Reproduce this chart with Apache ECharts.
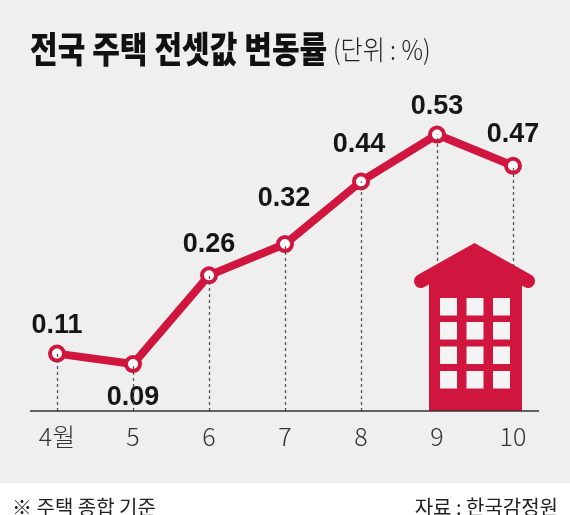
<!DOCTYPE html>
<html>
<head>
<meta charset="utf-8">
<script src="https://cdn.jsdelivr.net/npm/echarts@6/dist/echarts.min.js"></script>
<style>
html,body{margin:0;padding:0;background:#efefef;}
#chart{width:570px;height:515px;}
</style>
</head>
<body>
<div id="chart"></div>
<script>
// ---- data ----
const categories = ['4월', '5', '6', '7', '8', '9', '10'];
const values = [0.11, 0.09, 0.26, 0.32, 0.44, 0.53, 0.47];
const titleText = '전국 주택 전셋값 변동률';
const unitText = '(단위 : %)';
const noteText = '※ 주택 종합 기준';
const sourceText = '자료 : 한국감정원';

// ---- layout (label offsets from each point, px) ----
const labelOffsets = [[0, -28], [0, 33], [0, -31], [-1, -46], [-2, -37], [0, -28], [0, -31]];

const RED = '#d0163e';
const chart = echarts.init(document.getElementById('chart'), null, {renderer: 'canvas'});

const house = [];
house.push({type: 'polygon', z: 10, silent: true, shape: {points: [[474.5, 251], [528, 281], [421, 281]]}, style: {fill: RED}});
house.push({type: 'polyline', z: 10, silent: true, shape: {points: [[421, 281], [474.5, 251], [528, 281]]},
  style: {stroke: RED, lineWidth: 14, lineCap: 'round', lineJoin: 'miter', fill: null}});
house.push({type: 'rect', z: 10, silent: true, shape: {x: 429, y: 278, width: 93, height: 133}, style: {fill: RED}});
const winX = [440, 466.5, 493];
const winY = [298, 322, 346.5, 371];
winX.forEach(x => winY.forEach(y => {
  house.push({type: 'rect', z: 11, silent: true, shape: {x: x, y: y, width: 17, height: 17.5}, style: {fill: '#f4f4f4'}});
}));

const option = {
  backgroundColor: '#efefef',
  animation: false,
  title: [
    {
      left: 7, top: 492, text: noteText,
      textStyle: {fontSize: 20, fontWeight: 400, fontFamily: 'Noto Sans CJK KR', color: '#222'}
    },
    {
      right: 7, top: 492, text: sourceText,
      textStyle: {fontSize: 20, fontWeight: 400, fontFamily: 'Noto Sans CJK KR', color: '#222'}
    }
  ],
  grid: {left: 19, right: 19, top: 98, bottom: 104, containLabel: false},
  xAxis: {
    type: 'category',
    data: categories,
    boundaryGap: true,
    axisLine: {show: false},
    axisTick: {show: false},
    axisLabel: {
      margin: 13, fontSize: 25, fontWeight: 300, color: '#333',
      fontFamily: 'Noto Sans CJK KR'
    }
  },
  yAxis: {
    type: 'value', min: 0, max: 0.6,
    show: false, splitLine: {show: false}
  },
  graphic: [
    {type: 'rect', z: -10, silent: true, shape: {x: 0, y: 483, width: 570, height: 32}, style: {fill: '#ffffff'}},
    {type: 'line', z: 12, silent: true, shape: {x1: 30, y1: 411, x2: 539, y2: 411}, style: {stroke: '#333', lineWidth: 1.5}},
    {type: 'text', z: 20, x: 30, y: 49.5, scaleX: 0.835,
      style: {text: titleText, fontSize: 36, fontWeight: 900, fontFamily: 'Noto Sans CJK KR', fill: '#111', verticalAlign: 'middle', align: 'left'}},
    {type: 'text', z: 20, x: 333, y: 49.5, scaleX: 0.89,
      style: {text: unitText, fontSize: 27, fontWeight: 300, fontFamily: 'Noto Sans CJK KR', fill: '#222', verticalAlign: 'middle', align: 'left'}}
  ].concat(house),
  series: [
    {
      type: 'line',
      z: 1,
      data: values,
      symbol: 'none',
      lineStyle: {opacity: 0},
      silent: true,
      markLine: {
        symbol: 'none',
        silent: true,
        label: {show: false},
        lineStyle: {type: [3, 3], color: '#555', width: 1.3},
        data: values.map((v, i) => [{coord: [categories[i], 0]}, {coord: [categories[i], v]}])
      }
    },
    {
      type: 'line',
      z: 3,
      data: values.map((v, i) => ({value: v, label: {offset: labelOffsets[i]}})),
      symbol: 'circle',
      symbolSize: 14,
      lineStyle: {color: RED, width: 8},
      itemStyle: {color: '#ffffff', borderColor: RED, borderWidth: 4},
      label: {
        show: true,
        position: 'inside',
        align: 'center',
        verticalAlign: 'middle',
        fontSize: 27,
        fontWeight: 'bold',
        fontFamily: 'Liberation Sans, Arial, sans-serif',
        color: '#161616',
        backgroundColor: '#efefef',
        padding: [0, 1],
        formatter: p => p.value.toFixed(2)
      }
    }
  ]
};
chart.setOption(option);
</script>
</body>
</html>
